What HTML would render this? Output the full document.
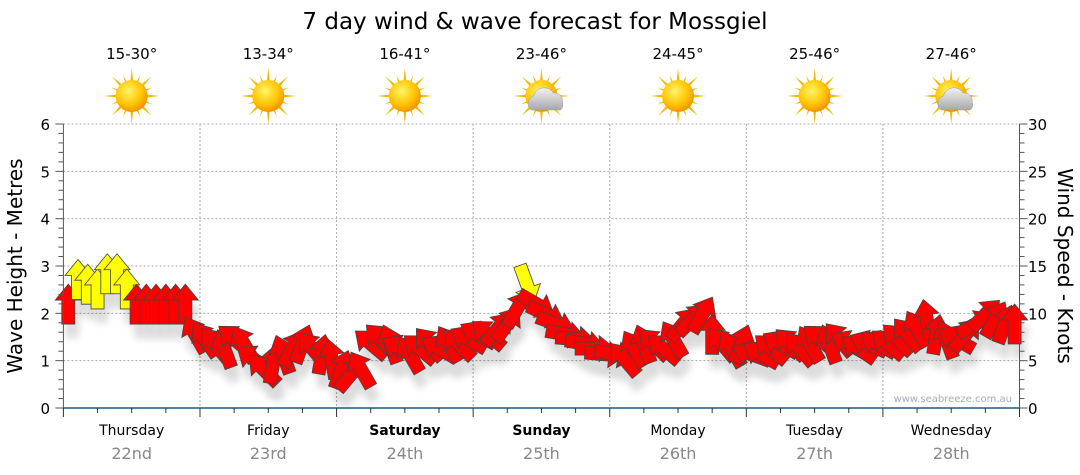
<!DOCTYPE html>
<html><head><meta charset="utf-8"><style>
body{margin:0;background:#fff;}
svg{display:block;font-family:"DejaVu Sans","Liberation Sans",sans-serif;}
</style></head><body>
<svg id="c" width="1080" height="475" viewBox="0 0 1080 475">
<defs>
<radialGradient id="sunG" cx="40%" cy="35%" r="70%"><stop offset="0" stop-color="#fff46a"/><stop offset="0.6" stop-color="#ffc400"/><stop offset="1" stop-color="#f08a00"/></radialGradient>
<linearGradient id="cloudG" x1="0" y1="0" x2="0" y2="1"><stop offset="0" stop-color="#f2f2f2"/><stop offset="1" stop-color="#a8a8a8"/></linearGradient>
<filter id="sh" x="-50%" y="-50%" width="200%" height="200%"><feGaussianBlur stdDeviation="4"/></filter>
</defs>
<text x="535" y="29" font-size="23" text-anchor="middle" fill="#000">7 day wind &amp; wave forecast for Mossgiel</text>
<g id="grid"></g>
<g id="weather"></g>
<g id="shadows" opacity="0.14"></g>
<g id="arrows"></g>
<g id="axes"></g>
<text x="1012" y="402" font-size="10" text-anchor="end" fill="#aab">www.seabreeze.com.au</text>
<text transform="translate(22,266) rotate(-90)" font-size="20" text-anchor="middle">Wave Height - Metres</text>
<text transform="translate(1058,266) rotate(90)" font-size="20" text-anchor="middle">Wind Speed - Knots</text>
</svg>
<script>
const days=["Thursday","Friday","Saturday","Sunday","Monday","Tuesday","Wednesday"];
const dates=["22nd","23rd","24th","25th","26th","27th","28th"];
const boldDays=[false,false,true,true,false,false,false];
const temps=["15-30°","13-34°","16-41°","23-46°","24-45°","25-46°","27-46°"];
const cloudy=[false,false,false,true,false,false,true];
const waveTicks=[0,1,2,3,4,5,6];
const windTicks=[0,5,10,15,20,25,30];
const windSpeed=[11.4,14,13.5,13,14.6,14.6,13,11.4,11.4,11.4,11.4,11.4,11.4,8.2,
7.7,7.2,6.7,7.7,7.2,5.6,4.5,5.1,6.1,6.7,7.2,6.7,6.1,5.6,
4.5,4.0,4.5,7.2,7.7,7.2,6.7,6.1,6.7,7.2,6.7,7.2,7.2,7.7,
8.2,8.2,8.8,9.3,10.9,13.5,11.4,10.3,9.3,8.2,7.7,7.2,6.7,6.1,
6.1,5.6,6.7,7.2,7.2,6.7,7.7,9.3,9.8,10.3,8.2,7.2,6.7,7.2,
6.1,6.1,6.7,7.2,7.2,6.7,7.2,7.7,7.2,7.7,7.2,6.7,7.2,7.2,
7.2,7.7,8.2,8.8,9.8,8.2,7.7,7.7,8.2,9.3,10.3,9.8,9.3,9.3];
const windDir=[0,0,0,0,0,0,0,0,0,0,0,0,0,-30,
-35,-40,-20,-50,-30,-55,-45,10,-20,30,20,-40,10,-10,
20,40,-30,-50,-45,-20,-60,-30,-50,-40,-60,-30,-45,-60,
-60,-50,40,35,30,160,120,115,110,100,95,100,90,95,
100,-40,-30,-20,-45,-50,-30,40,45,30,0,-40,-30,20,
-70,-60,-50,-60,-45,-40,-30,-50,-20,-40,-60,-55,-65,-60,
-50,-45,-40,-30,-10,10,-20,-60,40,60,45,30,20,0];
const ns="http://www.w3.org/2000/svg";
const X0=63.4,X1=1019.5,Y0=408,Y1=124;
const dayW=(X1-X0)/7;
const wy=v=>Y0-(v/6)*(Y0-Y1);
const ky=v=>Y0-(v/30)*(Y0-Y1);
const tx=i=>X0+(i+0.5)*(X1-X0)/windSpeed.length;
function mk(tag,attrs,parent){const e=document.createElementNS(ns,tag);for(const k in attrs)e.setAttribute(k,attrs[k]);parent.appendChild(e);return e;}
const grid=document.getElementById('grid'),axes=document.getElementById('axes'),weather=document.getElementById('weather');
waveTicks.forEach((t,i)=>{
 if(t>0){const l=mk('line',{x1:X0,x2:X1,y1:wy(t),y2:wy(t),stroke:'#aaa','stroke-dasharray':'2,2'},grid);
 
 }
 const tl=mk('text',{x:50,y:wy(t)+6,'font-size':15,'text-anchor':'end',fill:'#000'},axes);tl.textContent=t;
 
 
});
windTicks.forEach(t=>{
 const tl=mk('text',{x:1028,y:ky(t)+6,'font-size':15,fill:'#000'},axes);tl.textContent=t;
 
 
});
for(let v=0;v<=6.001;v+=0.2){const y=wy(v);const maj=Math.abs(v-Math.round(v))<0.01;
 mk('line',{x1:X0-(maj?8:5),x2:X0,y1:y,y2:y,stroke:'#555'},axes);}
for(let v=0;v<=30.001;v+=1){const y=ky(v);const maj=v%5==0;
 mk('line',{x1:X1,x2:X1+(maj?8:5),y1:y,y2:y,stroke:'#555'},axes);}
mk('line',{x1:X0,x2:X0,y1:Y1,y2:Y0,stroke:'#555'},axes);
mk('line',{x1:X1,x2:X1,y1:Y1,y2:Y0,stroke:'#555'},axes);
mk('line',{x1:X0,x2:X1,y1:Y0,y2:Y0,stroke:'#1d5a85','stroke-width':1.5},axes);
for(let d=0;d<=7;d++){
 const x=X0+d*dayW;
 if(d>0&&d<7){const l=mk('line',{x1:x,x2:x,y1:Y1,y2:Y0,stroke:'#aaa','stroke-dasharray':'2,2'},grid);
 
 }
 mk('line',{x1:x,x2:x,y1:Y0,y2:Y0+9,stroke:'#333'},axes);
 if(d<7)for(let h=1;h<4;h++){const xx=x+h*dayW/4;mk('line',{x1:xx,x2:xx,y1:Y0,y2:Y0+5,stroke:'#333'},axes);}
}
days.forEach((d,i)=>{
 const cx=X0+(i+0.5)*dayW;
 const t=mk('text',{x:cx,y:435,'font-size':14,'text-anchor':'middle','font-weight':boldDays[i]?'bold':'normal'},axes);t.textContent=d;
 
 
 const t2=mk('text',{x:cx,y:459,'font-size':16,'text-anchor':'middle',fill:'#888'},axes);t2.textContent=dates[i];
 
 
 const t3=mk('text',{x:cx,y:59,'font-size':15,'text-anchor':'middle'},weather);t3.textContent=temps[i];
 
 
 const g=mk('g',{transform:`translate(${cx},96)`},weather);
 
 
 for(let r=0;r<16;r++){const a=r*22.5;const L=r%2?22:28;
  mk('polygon',{points:`-3,0 3,0 0,${-L}`,fill:'#f5b800',transform:`rotate(${a})`},g);}
 mk('circle',{r:16,fill:'url(#sunG)'},g);
 if(cloudy[i]){mk('path',{d:'M-10,14 a8,8 0 0 1 2,-14 a11,11 0 0 1 20,-3 a8,8 0 0 1 9,9 a7,7 0 0 1 -2,8 z',fill:'url(#cloudG)',stroke:'#999','stroke-width':0.5},g);}
});
const arr=document.getElementById('arrows'),shd=document.getElementById('shadows');
const shape='M0,-20 L13,-4 L6.5,-4 L6.5,20 L-6.5,20 L-6.5,-4 L-13,-4 Z';
windSpeed.forEach((v,i)=>{
 const x=tx(i),y=ky(v)+4;
 mk('path',{d:shape,fill:'#000',filter:'url(#sh)',transform:`translate(${x+4},${y+14}) rotate(${windDir[i]})`},shd);
 const p=mk('path',{d:shape,fill:v>=12.5?'#ffff00':'#ff0000',stroke:'#444','stroke-width':0.8,transform:`translate(${x},${y}) rotate(${windDir[i]})`},arr);
 
 
});
</script>
</body></html>
